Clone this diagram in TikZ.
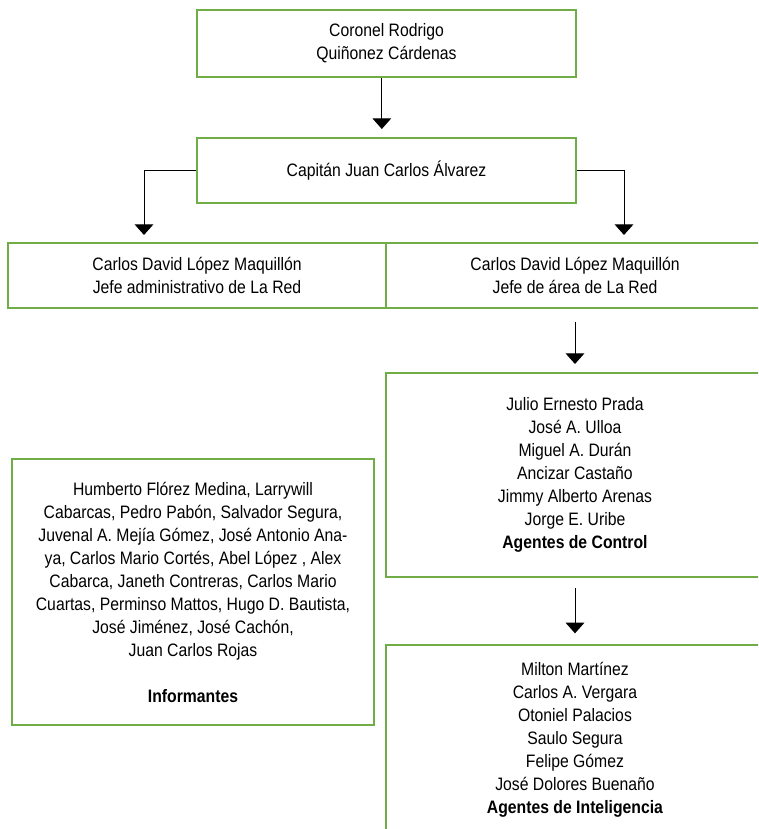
\documentclass[tikz,border=0pt]{standalone}
\usepackage{fontspec}
\setmainfont{Liberation Sans}[FakeStretch=0.875]
\usepackage{tikz}
\usetikzlibrary{positioning,arrows.meta,calc}
\definecolor{boxgreen}{HTML}{70AD47}
\tikzset{
    x=0.75pt,
    y=-0.75pt,
    block/.style = {
        draw=boxgreen,
        shape=rectangle,
        align=center,
        inner sep=0pt,
        minimum width=283.5pt,
        minimum height=48.75pt,
        line width=1.5pt,
        font={\fontsize{13.5}{17.25}\selectfont}
    },
    link/.style = {
        draw=black,
        line width=0.75pt,
        shorten >=6pt
    },
    >={Triangle[width=14pt,length=8pt]},
}
\begin{document}
\begin{tikzpicture}
                \useasboundingbox (0,0) rectangle (758,829);
                \clip (0,0) rectangle (758,829);

                \node[block, minimum width=284.25pt, minimum height=50.25pt] (coronel) at (386.5,43.5) {Coronel Rodrigo\\Quiñonez Cárdenas};
                \node[block, minimum width=284.25pt] (capitan) at (386.5,170.5) {Capitán Juan Carlos Álvarez};
                \node[block] (admin) at (197,275.5) {Carlos David López Maquillón\\Jefe administrativo de La Red};
                \node[block] (area) at (575,275.5) {Carlos David López Maquillón\\Jefe de área de La Red};
                \node[block, minimum height=153pt] (control) at (575,475) {Julio Ernesto Prada\\José A. Ulloa\\Miguel A. Durán\\Ancizar Castaño\\Jimmy Alberto Arenas\\Jorge E. Uribe\\\textbf{Agentes de Control}};
                \node[block, minimum height=142.5pt] (intel) at (575,740) {Milton Martínez\\Carlos A. Vergara\\Otoniel Palacios\\Saulo Segura\\Felipe Gómez\\José Dolores Buenaño\\\textbf{Agentes de Inteligencia}};
                \node[block, minimum width=271.5pt, minimum height=199.5pt] (inform) at (193,592) {Humberto Flórez Medina, Larrywill\\Cabarcas, Pedro Pabón, Salvador Segura,\\Juvenal A. Mejía Gómez, José Antonio Ana-\\ya, Carlos Mario Cortés, Abel López , Alex\\Cabarca, Janeth Contreras, Carlos Mario\\Cuartas, Perminso Mattos, Hugo D. Bautista,\\José Jiménez, José Cachón,\\Juan Carlos Rojas\\[17.25pt]\textbf{Informantes}};

                \coordinate (lfoot) at (144,243);
                \coordinate (rfoot) at (624,243);

                \path[link, ->] ([xshift=-3.5pt]coronel.south) -- ([xshift=-3.5pt]capitan.north);
                \path[link, ->] (capitan.west) -| (lfoot);
                \path[link, ->] (capitan.east) -| (rfoot);
                \path[link, ->, shorten <=10pt] (area) -- (control);
                \path[link, ->, shorten <=7.5pt, shorten >=8pt] (control) -- (intel);
            \end{tikzpicture}
\end{document}
